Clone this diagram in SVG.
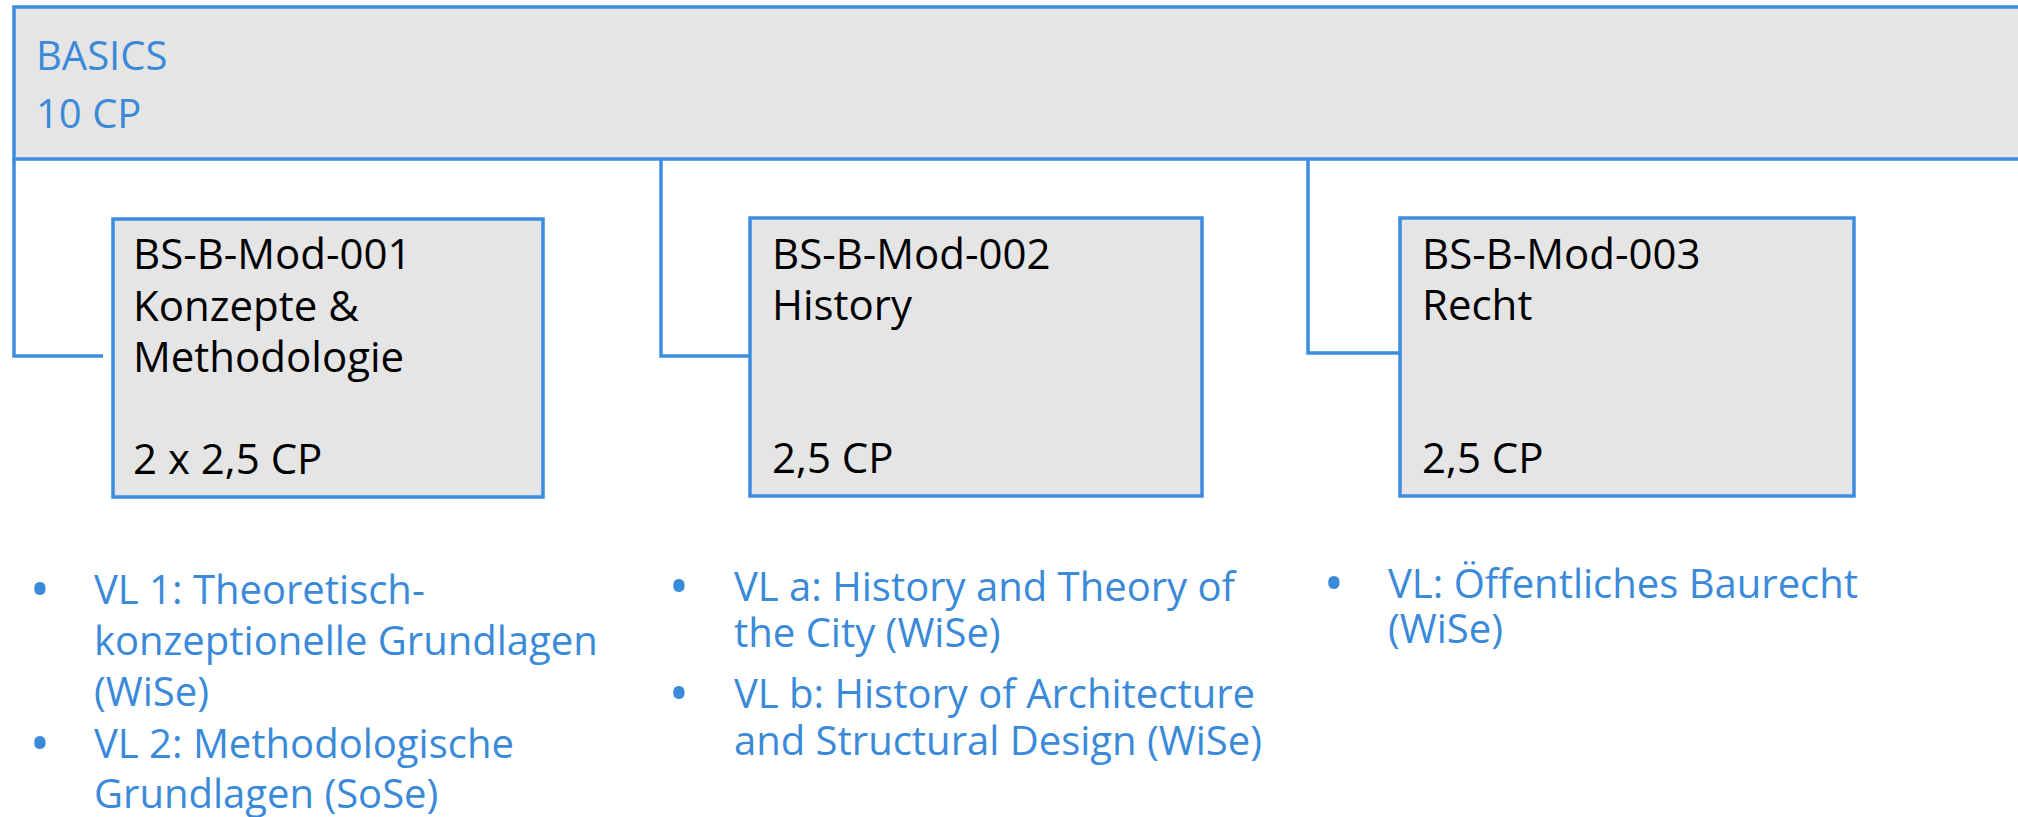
<svg xmlns="http://www.w3.org/2000/svg" width="2018" height="817" viewBox="0 0 2018 817">
<style>
.box{fill:#e5e5e5;stroke:#3c8ddf;stroke-width:3.5}
.conn{fill:none;stroke:#3c8ddf;stroke-width:3.5}
.t{font-family:"Open Sans","Noto Sans",sans-serif;font-size:40px}
.m{font-family:"Open Sans","Noto Sans",sans-serif;font-size:42px;fill:#000}
.blu{fill:#3a8ad9}
.b{font-family:"Open Sans","Noto Sans",sans-serif;font-size:54px;fill:#3a8ad9;text-anchor:middle}
</style>
<rect width="2018" height="817" fill="#fff"/>
<g id="connectors">
<path class="conn" d="M14,159 V356 H103"/>
<path class="conn" d="M661,159 V356 H750"/>
<path class="conn" d="M1308,159 V353 H1400"/>
</g>
<g id="basics">
<rect class="box" x="14" y="7" width="2030" height="152"/>
<text class="t blu" x="36" y="70">BASICS</text>
<text class="t blu" x="36" y="128">10 CP</text>
</g>
<g id="mod001">
<rect class="box" x="113" y="219" width="430" height="278"/>
<text class="m" x="133" y="269">BS-B-Mod-001</text>
<text class="m" x="133" y="321">Konzepte &amp;</text>
<text class="m" x="133" y="372">Methodologie</text>
<text class="m" x="133" y="474">2 x 2,5 CP</text>
</g>
<g id="mod002">
<rect class="box" x="750" y="218" width="452" height="278"/>
<text class="m" x="772" y="269">BS-B-Mod-002</text>
<text class="m" x="772" y="320">History</text>
<text class="m" x="772" y="473">2,5 CP</text>
</g>
<g id="mod003">
<rect class="box" x="1400" y="218" width="454" height="278"/>
<text class="m" x="1422" y="269">BS-B-Mod-003</text>
<text class="m" x="1422" y="320">Recht</text>
<text class="m" x="1422" y="473">2,5 CP</text>
</g>
<g id="list1">
<text class="b" x="40" y="609">•</text>
<text class="t blu" x="94" y="604">VL 1: Theoretisch-</text>
<text class="t blu" x="94" y="655">konzeptionelle Grundlagen</text>
<text class="t blu" x="94" y="706">(WiSe)</text>
<text class="b" x="40" y="763">•</text>
<text class="t blu" x="94" y="758">VL 2: Methodologische</text>
<text class="t blu" x="94" y="808">Grundlagen (SoSe)</text>
</g>
<g id="list2">
<text class="b" x="679" y="606">•</text>
<text class="t blu" x="734" y="601">VL a: History and Theory of</text>
<text class="t blu" x="734" y="647">the City (WiSe)</text>
<text class="b" x="679" y="713">•</text>
<text class="t blu" x="734" y="708">VL b: History of Architecture</text>
<text class="t blu" x="734" y="755">and Structural Design (WiSe)</text>
</g>
<g id="list3">
<text class="b" x="1334" y="603">•</text>
<text class="t blu" x="1388" y="598">VL: Öffentliches Baurecht</text>
<text class="t blu" x="1388" y="643">(WiSe)</text>
</g>
</svg>
